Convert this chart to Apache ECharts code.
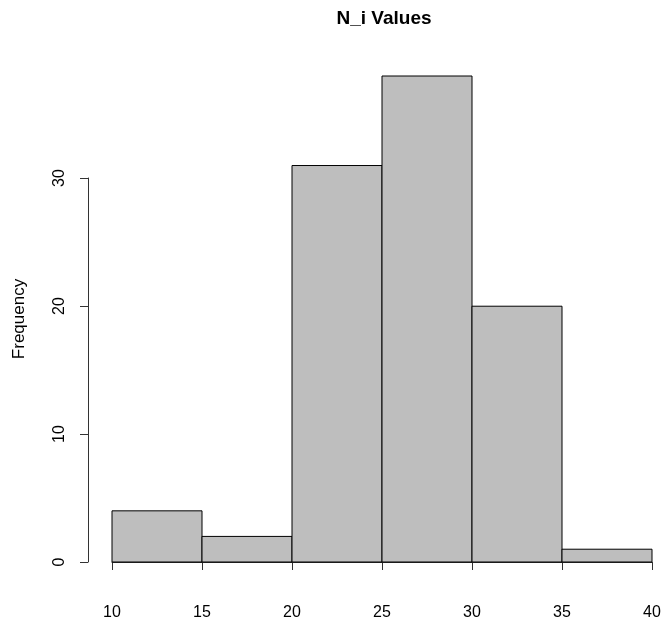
<!DOCTYPE html>
<html>
<head>
<meta charset="utf-8">
<script src="https://cdn.jsdelivr.net/npm/echarts@6/dist/echarts.min.js"></script>
<style>
html,body{margin:0;padding:0;background:#fff;}
#chart{width:662px;height:625px;}
</style>
</head>
<body>
<div id="chart"></div>
<script>
const titleText = 'N_i Values';
const yAxisName = 'Frequency';
const binEdges = [10, 15, 20, 25, 30, 35, 40];
const counts = [4, 2, 31, 38, 20, 1];
const xTickInterval = 5;
const yTickMax = 30;
const yTickInterval = 10;

const histData = counts.map((c, i) => [binEdges[i], binEdges[i + 1], c]);

const chart = echarts.init(document.getElementById('chart'), null, {renderer: 'canvas'});
const font = 'Liberation Sans, Arial, sans-serif';

chart.setOption({
  backgroundColor: '#ffffff',
  animation: false,
  title: {
    text: titleText,
    left: 379,
    top: 4,
    textAlign: 'center',
    textStyle: {fontFamily: font, fontSize: 19, fontWeight: 'bold', color: '#000'}
  },
  grid: [
    {left: 112, right: 10, top: 76, bottom: 63, outerBoundsMode: 'none', containLabel: false},
    {left: 88, width: 1, top: 178, bottom: 63, outerBoundsMode: 'none', containLabel: false}
  ],
  xAxis: [
    {
      gridIndex: 0, type: 'value', min: binEdges[0], max: binEdges[binEdges.length - 1],
      interval: xTickInterval, offset: 20,
      axisLine: {show: true, lineStyle: {color: '#333', width: 1}},
      axisTick: {show: true, length: 8, lineStyle: {color: '#333', width: 1}},
      axisLabel: {show: true, margin: 23, color: '#000', fontFamily: font, fontSize: 16},
      splitLine: {show: false}
    },
    {gridIndex: 1, type: 'value', show: false}
  ],
  yAxis: [
    {
      gridIndex: 0, type: 'value', min: 0, max: 38,
      name: yAxisName, nameLocation: 'middle', nameGap: 84,
      nameTextStyle: {fontFamily: font, fontSize: 17, color: '#000'},
      axisLine: {show: false}, axisTick: {show: false}, axisLabel: {show: false},
      splitLine: {show: false}
    },
    {
      gridIndex: 1, type: 'value', min: 0, max: yTickMax, interval: yTickInterval,
      axisLine: {show: true, lineStyle: {color: '#333', width: 1}},
      axisTick: {show: true, length: 8, lineStyle: {color: '#333', width: 1}},
      axisLabel: {show: true, rotate: 90, margin: 20, color: '#000', fontFamily: font, fontSize: 16},
      splitLine: {show: false}
    }
  ],
  series: [{
    type: 'custom',
    xAxisIndex: 0, yAxisIndex: 0,
    data: histData,
    renderItem: function (params, api) {
      const p0 = api.coord([api.value(0), api.value(2)]);
      const p1 = api.coord([api.value(1), 0]);
      return {
        type: 'rect',
        shape: {x: p0[0], y: p0[1], width: p1[0] - p0[0], height: p1[1] - p0[1]},
        style: {fill: '#bebebe', stroke: '#000', lineWidth: 1}
      };
    }
  }]
});
</script>
</body>
</html>
